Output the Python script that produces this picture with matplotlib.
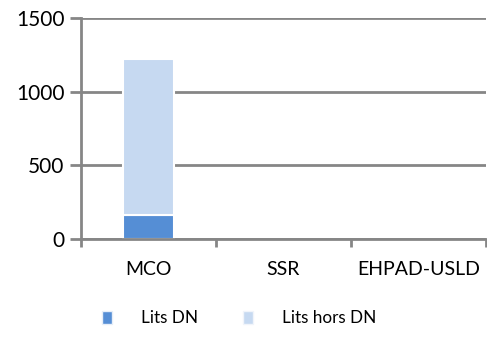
import matplotlib
matplotlib.use("Agg")
import matplotlib.pyplot as plt
from matplotlib.patches import Patch
import numpy as np

categories = ["MCO", "SSR", "EHPAD-USLD"]
lits_dn = [160, 0, 0]
lits_hors_dn = [1062, 0, 0]
series_labels = ["Lits DN", "Lits hors DN"]
y_ticks = [0, 500, 1000, 1500]

plt.rcParams["font.family"] = ["Lato", "DejaVu Sans"]

W, H = 487, 338
fig = plt.figure(figsize=(W / 100, H / 100), dpi=100)
ax = fig.add_axes([81 / W, 99 / H, (486 - 81) / W, (239 - 18) / H])

grid_col = "#868686"
c_dn = "#558ED5"
c_hors = "#C6D9F1"

x = np.arange(len(categories))
bw = 0.385
lw_dn = [1.5 if v > 0 else 0 for v in lits_dn]
lw_hors = [1.5 if v > 0 else 0 for v in lits_hors_dn]
ax.bar(x, lits_dn, width=bw, color=c_dn, edgecolor="white", linewidth=lw_dn, zorder=3)
ax.bar(x, lits_hors_dn, width=bw, bottom=lits_dn, color=c_hors,
       edgecolor="white", linewidth=lw_hors, zorder=3)

ax.set_xlim(-0.5, len(categories) - 0.5)
ax.set_ylim(0, 1500)
ax.set_yticks(y_ticks)
ax.set_yticklabels([str(v) for v in y_ticks], fontsize=15)
ax.yaxis.grid(True, color=grid_col, linewidth=2, zorder=0)
ax.tick_params(axis="y", length=8, width=2, color=grid_col, pad=4)

ax.set_xticks(x)
ax.set_xticklabels(categories, fontsize=14)
ax.set_xticks(np.arange(len(categories) + 1) - 0.5, minor=True)
ax.tick_params(axis="x", which="major", length=0, pad=16)
ax.tick_params(axis="x", which="minor", length=6, width=2, color=grid_col)

for s in ["top", "right"]:
    ax.spines[s].set_visible(False)
for s in ["left", "bottom"]:
    ax.spines[s].set_color(grid_col)
    ax.spines[s].set_linewidth(2)
ax.spines["bottom"].set_zorder(4)

handles = [Patch(facecolor=c_dn, edgecolor="#E6EEF8", linewidth=1),
           Patch(facecolor=c_hors, edgecolor="#F0F4FA", linewidth=1)]
fig.legend(handles, series_labels, loc="center", bbox_to_anchor=(239 / W, 1 - 318 / H),
           ncol=2, frameon=False, fontsize=12.3, handlelength=0.6, handleheight=0.8,
           columnspacing=2.6, handletextpad=1.7)

fig.savefig("out.png", dpi=100, facecolor="white")
